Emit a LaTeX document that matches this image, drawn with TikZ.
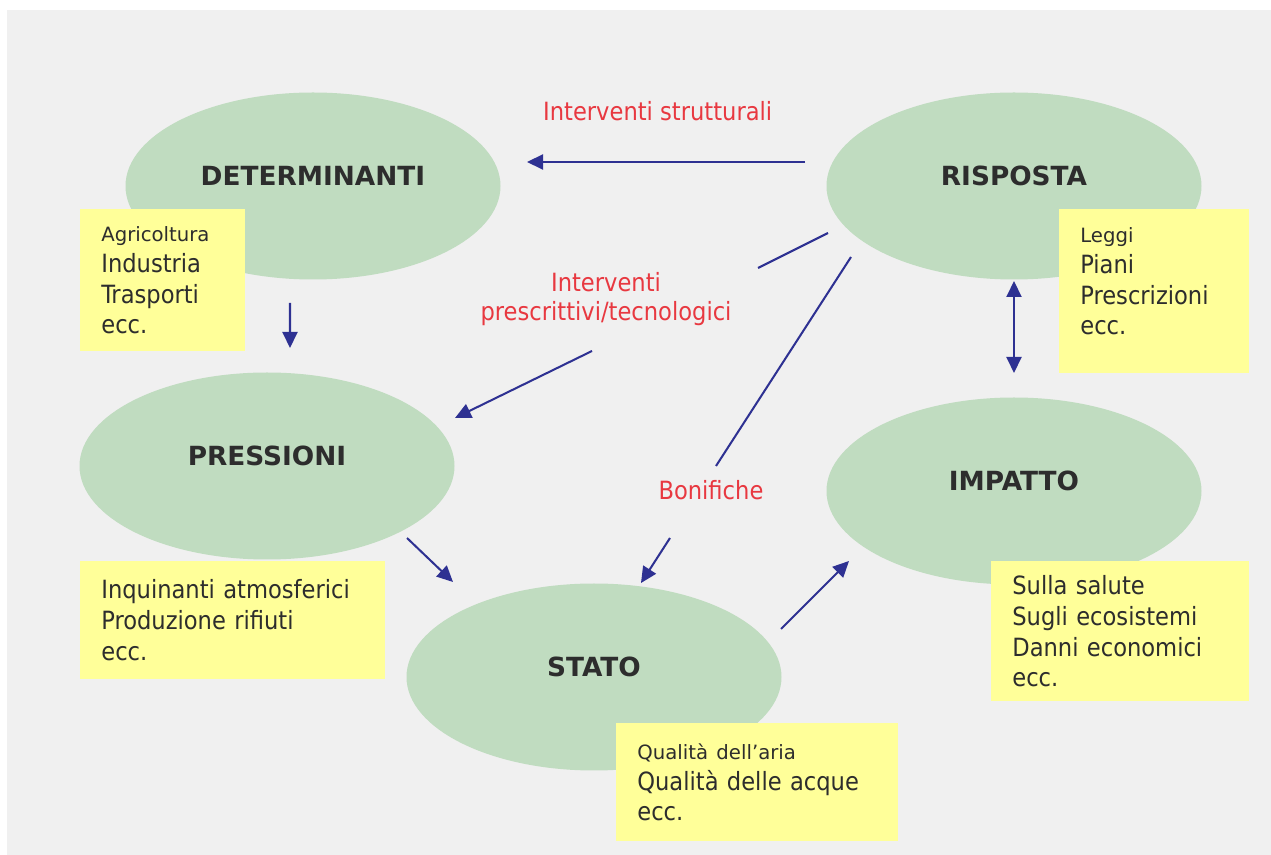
\documentclass[tikz,border=0pt]{standalone}
\usepackage{fontspec}
\setmainfont{DejaVu Sans}
\newfontfamily\condfont{DejaVu Sans Condensed}
\usepackage{tikz}
\usetikzlibrary{arrows.meta,shapes.geometric,positioning}
\definecolor{fondo}{RGB}{240,240,240}
\definecolor{verde}{RGB}{192,220,192}
\definecolor{giallo}{RGB}{255,255,153}
\definecolor{blu}{RGB}{46,49,146}
\definecolor{rosso}{RGB}{232,56,64}
\definecolor{scuro}{RGB}{45,45,45}
\newcommand{\piccolo}[1]{{\normalfont\fontsize{11.2}{13}\selectfont #1}}

\begin{document}
\begin{tikzpicture}[
  >={Triangle[width=0.3cm,length=0.32cm]},
  fase/.style={ellipse, fill=verde, minimum width=7.5cm, minimum height=3.74cm, inner sep=0pt, text=scuro, font=\bfseries\fontsize{15}{18}\selectfont, text depth=0.4cm},
  nota/.style={anchor=north west, fill=giallo, text=scuro, align=left, inner xsep=0.42cm, inner ysep=0pt, font=\condfont\fontsize{14.3}{17.5}\selectfont},
  voce/.style={text=rosso, align=center, font=\condfont\fontsize{14.3}{16.5}\selectfont},
  freccia/.style={draw=blu, line width=1.15pt}
]
\useasboundingbox (0,0) rectangle (25.42,-17.1);
\fill[fondo] (0.14,-0.2) rectangle (25.42,-17.1);

% ellissi
\node[fase] (det) at (6.26,-3.72) {DETERMINANTI};
\node[fase] (ris) at (20.28,-3.72) {RISPOSTA};
\node[fase] (pre) at (5.34,-9.32) {PRESSIONI};
\node[fase] (imp) at (20.28,-9.82) {IMPATTO};
\node[fase] (sta) at (11.88,-13.54) {STATO};

% riquadri gialli
\node[nota, text width=2.46cm, minimum height=2.84cm] (agr) at (1.6,-4.18) {\piccolo{Agricoltura}\\Industria\\Trasporti\\ecc.};
\node[nota, text width=2.96cm, minimum height=3.28cm] (leg) at (21.18,-4.18) {\piccolo{Leggi}\\Piani\\Prescrizioni\\ecc.\rule[-0.4cm]{0pt}{0pt}};
\node[nota, text width=5.26cm, minimum height=2.36cm] (inq) at (1.6,-11.22) {Inquinanti atmosferici\\Produzione rifiuti\\ecc.};
\node[nota, text width=4.32cm, minimum height=2.8cm] (sal) at (19.82,-11.22) {Sulla salute\\Sugli ecosistemi\\Danni economici\\ecc.};
\node[nota, text width=4.8cm, minimum height=2.36cm] (qua) at (12.32,-14.46) {\piccolo{Qualità dell’aria}\\Qualità delle acque\\ecc.};

% interruzioni delle linee
\coordinate (a2) at (15.16,-5.36);
\coordinate (b2) at (11.84,-7.02);
\coordinate (a3) at (14.32,-9.32);
\coordinate (b3) at (13.4,-10.76);

\draw[freccia,->] ([shift={(-4.18,0.48)}]ris.center) -- node[voce, pos=0.53, above=0.69cm] (strut) {Interventi strutturali} ([shift={(4.28,0.48)}]det.center);
\draw[freccia] ([shift={(-3.72,-0.94)}]ris.center) -- (a2);
\node[voce] (presc) at (12.12,-5.99) {Interventi\\prescrittivi/tecnologici};
\draw[freccia,->] (b2) -- ([shift={(3.76,0.96)}]pre.center);
\draw[freccia] ([shift={(-3.26,-1.42)}]ris.center) -- (a3);
\node[voce] (bon) at (14.22,-9.81) {Bonifiche};
\draw[freccia,->] (b3) -- ([shift={(0.94,1.88)}]sta.center);
\draw[freccia,->] ([shift={(-0.46,-2.34)}]det.center) -- ([shift={(0.46,2.36)}]pre.center);
\draw[freccia,->] ([shift={(2.8,-1.44)}]pre.center) -- ([shift={(-2.82,1.9)}]sta.center);
\draw[freccia,->] ([shift={(3.74,0.96)}]sta.center) -- ([shift={(-3.3,-1.4)}]imp.center);
\draw[freccia,<->] ([shift={(0,-1.9)}]ris.center) -- ([shift={(0,2.36)}]imp.center);
\end{tikzpicture}
\end{document}
